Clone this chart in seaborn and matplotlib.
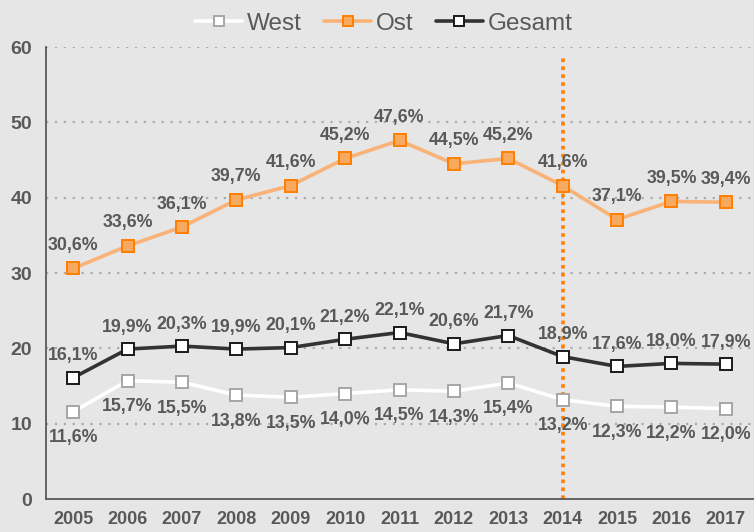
import matplotlib
matplotlib.use('Agg')
import matplotlib.pyplot as plt
from matplotlib.ticker import MultipleLocator
import pandas as pd
import seaborn as sns

years = [2005, 2006, 2007, 2008, 2009, 2010, 2011, 2012, 2013, 2014, 2015, 2016, 2017]
west = [11.6, 15.7, 15.5, 13.8, 13.5, 14.0, 14.5, 14.3, 15.4, 13.2, 12.3, 12.2, 12.0]
ost = [30.6, 33.6, 36.1, 39.7, 41.6, 45.2, 47.6, 44.5, 45.2, 41.6, 37.1, 39.5, 39.4]
gesamt = [16.1, 19.9, 20.3, 19.9, 20.1, 21.2, 22.1, 20.6, 21.7, 18.9, 17.6, 18.0, 17.9]
marker_year = 2014

sns.set_theme(style='white')
plt.rcParams['font.family'] = ['Liberation Sans', 'DejaVu Sans']

bg = '#e6e6e6'
txt = '#595959'

df = pd.DataFrame({'Jahr': years, 'West': west, 'Ost': ost, 'Gesamt': gesamt})

fig = plt.figure(figsize=(7.54, 5.32), dpi=100, facecolor=bg)
ax = fig.add_axes([46 / 754, 1 - 499 / 532, 707 / 754, 452 / 532])
ax.set_facecolor(bg)

# offsets of the value labels in pixels (positive = below the point)
styles = {
    'West': dict(color='white', mfc='white', mec='#a6a6a6', off=26),
    'Ost': dict(color='#f9b277', mfc='#f7a95f', mec='#ff7f00', off=-23),
    'Gesamt': dict(color='#333333', mfc='white', mec='#1a1a1a', off=-22),
}

for name, st in styles.items():
    sns.lineplot(data=df, x='Jahr', y=name, ax=ax, color=st['color'], linewidth=2.6,
                 marker='s', markersize=8, markerfacecolor=st['mfc'],
                 markeredgecolor=st['mec'], markeredgewidth=1.4, label=name)
    for x, v in zip(years, df[name]):
        ax.annotate(f'{v:.1f}%'.replace('.', ','), (x, v), xytext=(0, -st['off'] * 0.72),
                    textcoords='offset points', ha='center', va='center',
                    fontsize=12.8, fontweight='bold', color=txt)

ax.axvline(marker_year, ymin=0, ymax=0.975, color='#ff7f00', linewidth=2.6,
           linestyle=(0, (1, 1.2)), zorder=1)

ax.set_xlim(2004.5, 2017.5)
ax.set_ylim(0, 60)
ax.set_xticks(years)
ax.set_xticklabels([str(y) for y in years])
ax.set_xticks([y + 0.5 for y in years[:-1]], minor=True)
ax.yaxis.set_major_locator(MultipleLocator(10))
ax.tick_params(axis='x', which='major', length=0, pad=9, labelsize=13, labelcolor=txt)
ax.tick_params(axis='x', which='minor', length=5, width=1.3, color=txt, direction='out')
ax.tick_params(axis='y', length=5, width=1.3, color=txt, direction='out', labelsize=14, labelcolor=txt, pad=5)
for lab in ax.get_xticklabels() + ax.get_yticklabels():
    lab.set_fontweight('bold')
for yv in range(10, 61, 10):
    ax.axhline(yv, color='#ababab', linewidth=1.6, linestyle=(0, (1, 3)), zorder=0)

for s in ['top', 'right']:
    ax.spines[s].set_visible(False)
for s in ['left', 'bottom']:
    ax.spines[s].set_color(txt)
    ax.spines[s].set_linewidth(1.3)
ax.set_xlabel('')
ax.set_ylabel('')

leg = ax.legend(loc='lower center', bbox_to_anchor=(0.478, 1.0), ncol=3, frameon=False,
                fontsize=17.5, handlelength=1.95, columnspacing=0.9, handletextpad=0.2,
                borderaxespad=0.1, markerscale=0.85)
for t in leg.get_texts():
    t.set_color(txt)

fig.savefig('out.png', dpi=100, facecolor=bg)
